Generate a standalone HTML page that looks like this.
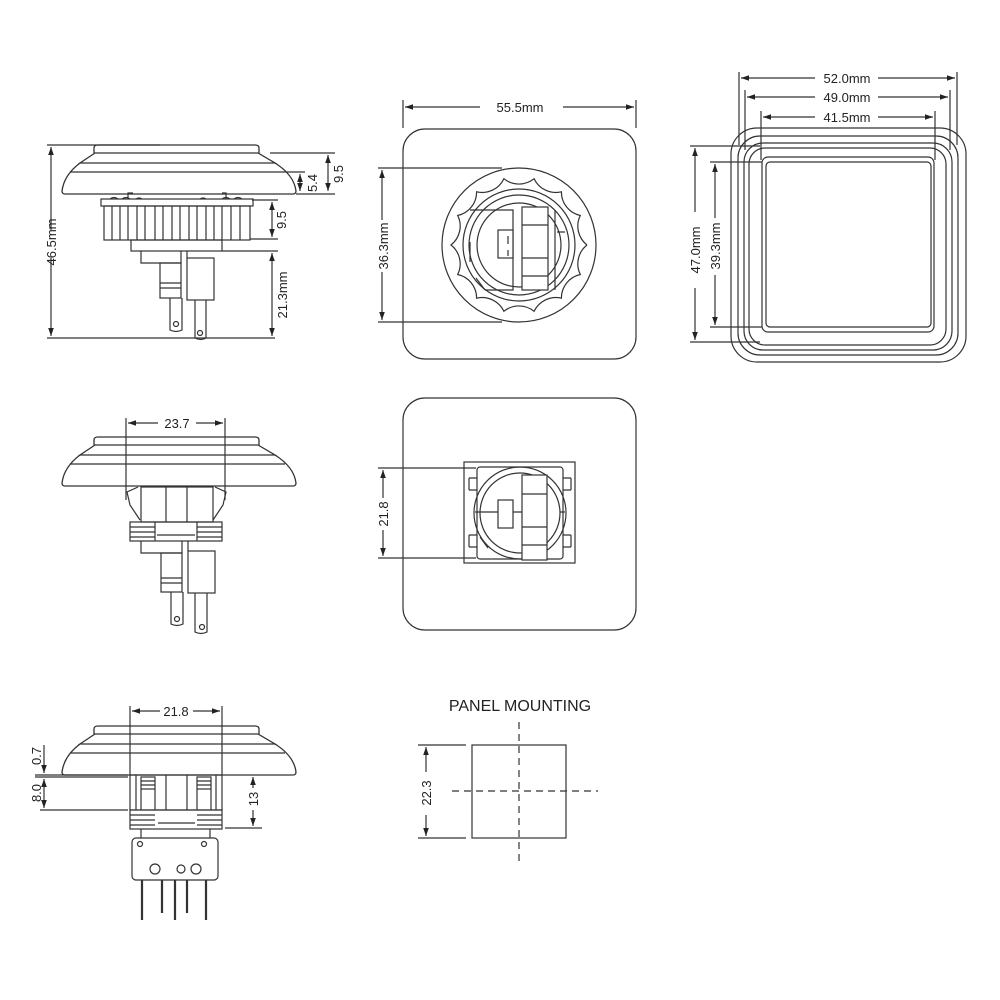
<!DOCTYPE html>
<html><head><meta charset="utf-8"><style>
html,body{margin:0;padding:0;background:#fff}
svg{display:block}
text{font-family:"Liberation Sans",sans-serif;fill:#222}
</style></head><body>
<svg width="1000" height="1000" viewBox="0 0 1000 1000" xmlns="http://www.w3.org/2000/svg">
<defs>
<marker id="a" viewBox="0 0 10 10" refX="10" refY="5" markerWidth="8" markerHeight="8" orient="auto-start-reverse" markerUnits="userSpaceOnUse"><path d="M0,1.5 L10,5 L0,8.5 Z" fill="#222"/></marker>
<g id="cap" fill="none" stroke="#333" stroke-width="1.3">
<path d="M94,8 L94,3 Q94,0 98,0 L255,0 Q259,0 259,3 L259,8"/>
<path d="M80,18 L95,8 L258,8 L275,18 Z"/>
<path d="M70,27 L285,27"/>
<path d="M80,18 Q64,30 62,46 Q62,49 65,49 L293,49 Q296,49 296,46 Q294,30 275,18"/>
</g>
</defs>
<g fill="none" stroke="#333" stroke-width="1.2">

<!-- ===== TOP LEFT SIDE VIEW ===== -->
<use href="#cap" transform="translate(0,145)"/>
<rect x="101" y="199" width="152" height="7"/>
<path d="M110,199 q4,-3 8,0 M122,199 q4,-3 8,0 M136,199 q3,-2 6,0 M200,199 q3,-2 6,0 M222,199 q4,-3 8,0 M234,199 q4,-3 8,0"/>
<path d="M128,199 L128,193 L133,193 M226,199 L226,193 L222,193"/>
<rect x="104" y="206" width="146" height="34"/>
<path d="M112,206V240 M120,206V240 M128,206V240 M137,206V240 M145,206V240 M155,206V240 M163,206V240 M172,206V240 M180,206V240 M189,206V240 M197,206V240 M206,206V240 M214,206V240 M222,206V240 M231,206V240 M240,206V240"/>
<rect x="131" y="240" width="91" height="11"/>
<path d="M141,251 V263 H181 V251 M187,251 V258"/>
<rect x="160" y="263" width="21" height="35"/>
<path d="M160,283 H181 M160,288 H181"/>
<rect x="187" y="258" width="27" height="42"/>
<path d="M170,298 V330 Q176,333 182,330 V298"/>
<circle cx="176" cy="324" r="2.5"/>
<path d="M195,300 V338 Q201,341 206,338 V300"/>
<circle cx="200" cy="333" r="2.5"/>
<!-- dims -->
<path d="M47,145 H160 M47,338 H275"/>
<path d="M51,147 V230 M51,258 V336" marker-start="url(#a)" marker-end="url(#a)"/>
<path d="M270,153 H335 M296,194 H335 M285,172 H305"/>
<path d="M328,155 V191" marker-start="url(#a)" marker-end="url(#a)"/>
<path d="M300,174 V191" marker-start="url(#a)" marker-end="url(#a)"/>
<path d="M252,200 H278 M250,239 H278 M222,251 H278"/>
<path d="M272,202 V237" marker-start="url(#a)" marker-end="url(#a)"/>
<path d="M272,253 V336" marker-start="url(#a)" marker-end="url(#a)"/>

<!-- ===== MIDDLE LEFT VIEW ===== -->
<use href="#cap" transform="translate(0,437)"/>
<rect x="141" y="487" width="72" height="35"/>
<path d="M166,487V522 M187,487V522"/>
<path d="M138,487 L127,492 L130,505 L140,520 M215,487 L226,492 L223,505 L213,520"/>
<rect x="130" y="522" width="92" height="19"/>
<path d="M130,527H155 M130,532H155 M130,537H155 M197,527H222 M197,532H222 M197,537H222 M155,522V541 M197,522V541 M157,535H195"/>
<path d="M141,541 V553 H182 V541 M188,541 V551"/>
<rect x="161" y="553" width="21" height="39"/>
<path d="M161,578 H182 M161,583 H182"/>
<rect x="188" y="551" width="27" height="42"/>
<path d="M171,592 V624 Q177,627 183,624 V592"/>
<circle cx="177" cy="619" r="2.5"/>
<path d="M195,593 V632 Q201,635 207,632 V593"/>
<circle cx="202" cy="627" r="2.5"/>
<path d="M126,418 V500 M225,418 V500"/>
<path d="M128,423 H158 M196,423 H223" marker-start="url(#a)" marker-end="url(#a)"/>

<!-- ===== BOTTOM LEFT VIEW ===== -->
<use href="#cap" transform="translate(0,726)"/>
<rect x="130" y="775" width="92" height="35"/>
<path d="M136,775V810 M166,775V810 M187,775V810 M216,775V810"/>
<rect x="141" y="777" width="14" height="12"/>
<rect x="197" y="777" width="14" height="12"/>
<path d="M141,781H155 M141,785H155 M197,781H211 M197,785H211 M141,789V810 M155,789V810 M197,789V810 M211,789V810"/>
<rect x="130" y="810" width="92" height="19"/>
<path d="M130,815H155 M130,820H155 M130,825H155 M197,815H222 M197,820H222 M197,825H222 M158,823H195"/>
<path d="M141,829 V838 M210,829 V838"/>
<rect x="132" y="838" width="86" height="42" rx="4"/>
<circle cx="140" cy="844" r="2.5"/><circle cx="204" cy="844" r="2.5"/>
<circle cx="155" cy="869" r="5"/><circle cx="181" cy="869" r="4"/><circle cx="196" cy="869" r="5"/>
<path d="M142,880V920 M162,880V913 M175,880V920 M187,880V913 M206,880V920" stroke-width="2.2"/>
<path d="M130,706 V776 M222,706 V776"/>
<path d="M132,711 H160 M193,711 H220" marker-start="url(#a)" marker-end="url(#a)"/>
<path d="M35,775 H128 M35,777 H128 M40,810 H128 M225,828 H262"/>
<path d="M44,745 V773" marker-end="url(#a)"/>
<path d="M44,779 V808" marker-start="url(#a)" marker-end="url(#a)"/>
<path d="M253,777 V788 M253,810 V826" marker-start="url(#a)" marker-end="url(#a)"/>

<!-- ===== TOP MIDDLE ===== -->
<rect x="403" y="129" width="233" height="230" rx="22"/>
<circle cx="519" cy="245" r="77"/>
<path id="scal" d=""/>
<circle cx="519" cy="245" r="56"/>
<circle cx="519" cy="245" r="50"/>
<circle cx="519" cy="245" r="42"/>
<path d="M470,210 H513 V290 H485 M555,210 V290 M470,242 V262 M485,290 L476,278 M565,232 H557"/>
<rect x="522" y="207" width="26" height="83" fill="#fff"/>
<path d="M522,225H548 M522,258H548 M522,276H548"/>
<rect x="498" y="230" width="15" height="28" fill="#fff"/>
<path d="M508,236V244 M508,250V256"/>
<path d="M403,100 V128 M636,100 V128"/>
<path d="M405,107 H480 M563,107 H634" marker-start="url(#a)" marker-end="url(#a)"/>
<path d="M378,168 H502 M378,322 H502"/>
<path d="M382,170 V220 M382,272 V320" marker-start="url(#a)" marker-end="url(#a)"/>

<!-- ===== MIDDLE CENTER ===== -->
<rect x="403" y="398" width="233" height="232" rx="22"/>
<rect x="464" y="462" width="111" height="101"/>
<rect x="477" y="467" width="86" height="92" rx="3"/>
<path d="M469,478H477 M469,490H477 M469,535H477 M469,547H477 M563,478H571 M563,490H571 M563,535H571 M563,547H571 M469,478V490 M469,535V547 M571,478V490 M571,535V547"/>
<circle cx="520" cy="513" r="46"/>
<circle cx="520" cy="513" r="40"/>
<path d="M475,512 H522 M560,512 H565 M480,537 L488,548"/>
<rect x="522" y="475" width="25" height="85" fill="#fff"/>
<path d="M522,494H547 M522,527H547 M522,545H547"/>
<rect x="498" y="500" width="15" height="28" fill="#fff"/>
<path d="M378,468 H476 M378,558 H476"/>
<path d="M383,470 V498 M383,530 V556" marker-start="url(#a)" marker-end="url(#a)"/>

<!-- ===== TOP RIGHT ===== -->
<rect x="731" y="128" width="235" height="234" rx="26"/>
<rect x="738" y="136" width="220" height="219" rx="22"/>
<rect x="744" y="143" width="208" height="207" rx="19"/>
<rect x="749" y="148" width="197" height="197" rx="16"/>
<rect x="762" y="157" width="172" height="175" rx="6"/>
<rect x="766" y="162" width="165" height="165" rx="4"/>
<path d="M739,72 V145 M957,72 V145 M745,90 V150 M950,90 V150 M761,111 V160 M935,111 V160"/>
<path d="M741,78 H815 M878,78 H955" marker-start="url(#a)" marker-end="url(#a)"/>
<path d="M747,97 H815 M878,97 H948" marker-start="url(#a)" marker-end="url(#a)"/>
<path d="M763,117 H815 M878,117 H933" marker-start="url(#a)" marker-end="url(#a)"/>
<path d="M690,146 H760 M690,342 H760 M710,162 H762 M710,327 H762"/>
<path d="M695,148 V212 M695,288 V340" marker-start="url(#a)" marker-end="url(#a)"/>
<path d="M715,164 V218 M715,275 V325" marker-start="url(#a)" marker-end="url(#a)"/>

<!-- ===== PANEL MOUNTING ===== -->
<rect x="472" y="745" width="94" height="93"/>
<path d="M519,722 V862 M452,791 H598" stroke-dasharray="7,5"/>
<path d="M418,745 H466 M418,838 H466"/>
<path d="M426,747 V772 M426,815 V836" marker-start="url(#a)" marker-end="url(#a)"/>
</g>

<g font-size="13">
<text x="51" y="242" text-anchor="middle" transform="rotate(-90 51 242)" dy="5">46.5mm</text>
<text x="338" y="174" text-anchor="middle" transform="rotate(-90 338 174)" dy="5">9.5</text>
<text x="312" y="183" text-anchor="middle" transform="rotate(-90 312 183)" dy="5">5.4</text>
<text x="281" y="220" text-anchor="middle" transform="rotate(-90 281 220)" dy="5">9.5</text>
<text x="282" y="295" text-anchor="middle" transform="rotate(-90 282 295)" dy="5">21.3mm</text>
<text x="177" y="428" text-anchor="middle">23.7</text>
<text x="176" y="716" text-anchor="middle">21.8</text>
<text x="36" y="756" text-anchor="middle" transform="rotate(-90 36 756)" dy="5">0.7</text>
<text x="36" y="793" text-anchor="middle" transform="rotate(-90 36 793)" dy="5">8.0</text>
<text x="253" y="799" text-anchor="middle" transform="rotate(-90 253 799)" dy="5">13</text>
<text x="520" y="112" text-anchor="middle">55.5mm</text>
<text x="383" y="246" text-anchor="middle" transform="rotate(-90 383 246)" dy="5">36.3mm</text>
<text x="383" y="514" text-anchor="middle" transform="rotate(-90 383 514)" dy="5">21.8</text>
<text x="847" y="83" text-anchor="middle">52.0mm</text>
<text x="847" y="102" text-anchor="middle">49.0mm</text>
<text x="847" y="122" text-anchor="middle">41.5mm</text>
<text x="695" y="250" text-anchor="middle" transform="rotate(-90 695 250)" dy="5">47.0mm</text>
<text x="715" y="246" text-anchor="middle" transform="rotate(-90 715 246)" dy="5">39.3mm</text>
<text x="426" y="793" text-anchor="middle" transform="rotate(-90 426 793)" dy="5">22.3</text>
<text x="520" y="711" text-anchor="middle" font-size="16">PANEL MOUNTING</text>
</g>
</svg>
<script>
(function(){
var cx=519,cy=245,n=14,r=68,d="";
for(var i=0;i<=n;i++){
 var a=i*2*Math.PI/n, x=cx+r*Math.cos(a), y=cy+r*Math.sin(a);
 if(i==0){d+="M"+x.toFixed(1)+","+y.toFixed(1);}
 else{d+=" A24,24 0 0 0 "+x.toFixed(1)+","+y.toFixed(1);}
}
document.getElementById("scal").setAttribute("d",d);
})();
</script>
</body></html>
